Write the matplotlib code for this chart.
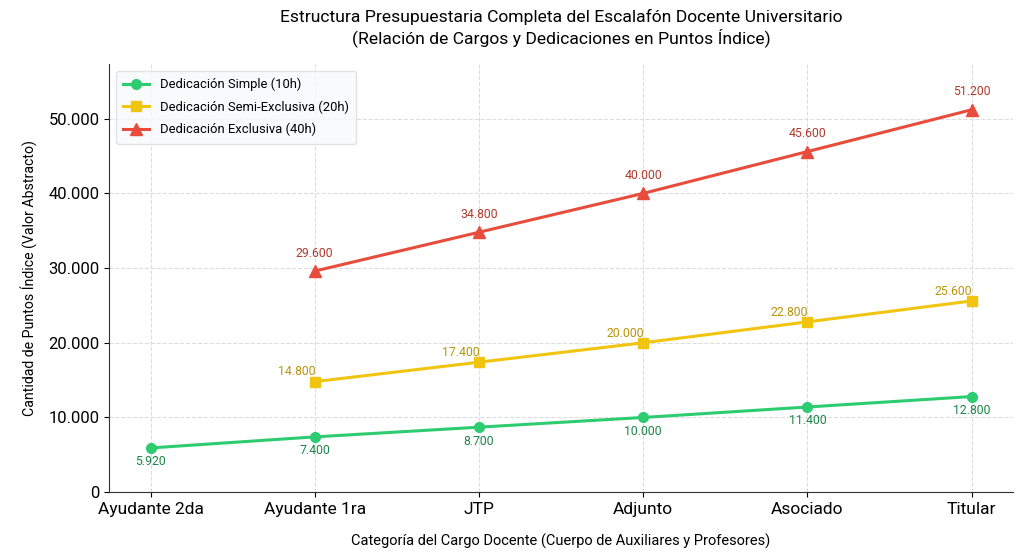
import numpy as np
import matplotlib
matplotlib.use("Agg")
import matplotlib.pyplot as plt
from matplotlib.ticker import FuncFormatter

plt.rcParams['font.family'] = ['Roboto', 'DejaVu Sans']

# categories and series values
cargos = ["Ayudante 2da", "Ayudante 1ra", "JTP", "Adjunto", "Asociado", "Titular"]
simple = [5920, 7400, 8700, 10000, 11400, 12800]
semi = [None, 14800, 17400, 20000, 22800, 25600]
exclusiva = [None, 29600, 34800, 40000, 45600, 51200]


def fmt_miles(v, pos=None):
    return f"{int(v):,}".replace(",", ".")


x = np.arange(len(cargos))
semi_arr = np.array([np.nan if v is None else v for v in semi], dtype=float)
excl_arr = np.array([np.nan if v is None else v for v in exclusiva], dtype=float)

fig, ax = plt.subplots(figsize=(10.23, 5.58), dpi=100)

ax.plot(x, simple, color="#2ecc71", marker="o", markersize=7, linewidth=2.2,
        label="Dedicación Simple (10h)")
ax.plot(x, semi_arr, color="#f1c40f", marker="s", markersize=7, linewidth=2.2,
        label="Dedicación Semi-Exclusiva (20h)")
ax.plot(x, excl_arr, color="#e74c3c", marker="^", markersize=8, linewidth=2.2,
        label="Dedicación Exclusiva (40h)")

# value labels
for xi, v in zip(x, simple):
    ax.annotate(fmt_miles(v), (xi, v), xytext=(0, -10), textcoords="offset points",
                ha="center", va="center", fontsize=8.8, color="#1e8449")
for xi, v in zip(x, semi):
    if v is not None:
        ax.annotate(fmt_miles(v), (xi, v), xytext=(-13, 7), textcoords="offset points",
                    ha="center", va="center", fontsize=8.8, color="#b7950b")
for xi, v in zip(x, exclusiva):
    if v is not None:
        ax.annotate(fmt_miles(v), (xi, v), xytext=(0, 13), textcoords="offset points",
                    ha="center", va="center", fontsize=8.8, color="#b03a2e")

ax.set_xticks(x)
ax.set_xticklabels(cargos, fontsize=12.5)
ax.yaxis.set_major_formatter(FuncFormatter(fmt_miles))
ax.tick_params(axis="y", labelsize=12)
ax.set_xlim(-0.25, 5.25)
ax.set_ylim(0, 57300)

ax.grid(True, linestyle="--", color="#dddddd", linewidth=0.8)
ax.set_axisbelow(True)
ax.spines["top"].set_visible(False)
ax.spines["right"].set_visible(False)
ax.spines["left"].set_color("#333333")
ax.spines["bottom"].set_color("#333333")

ax.set_xlabel("Categoría del Cargo Docente (Cuerpo de Auxiliares y Profesores)",
              fontsize=10.5, labelpad=12)
ax.set_ylabel("Cantidad de Puntos Índice (Valor Abstracto)", fontsize=10.2, labelpad=8)
ax.set_title("Estructura Presupuestaria Completa del Escalafón Docente Universitario\n"
             "(Relación de Cargos y Dedicaciones en Puntos Índice)",
             fontsize=12.6, pad=15)

leg = ax.legend(loc="upper left", fontsize=9.4, frameon=True, facecolor="#f8f9fa",
                edgecolor="#dddddd", labelspacing=0.7, borderpad=0.55)

fig.subplots_adjust(left=0.107, right=0.99, top=0.885, bottom=0.118)
fig.savefig("out.png", dpi=100)
